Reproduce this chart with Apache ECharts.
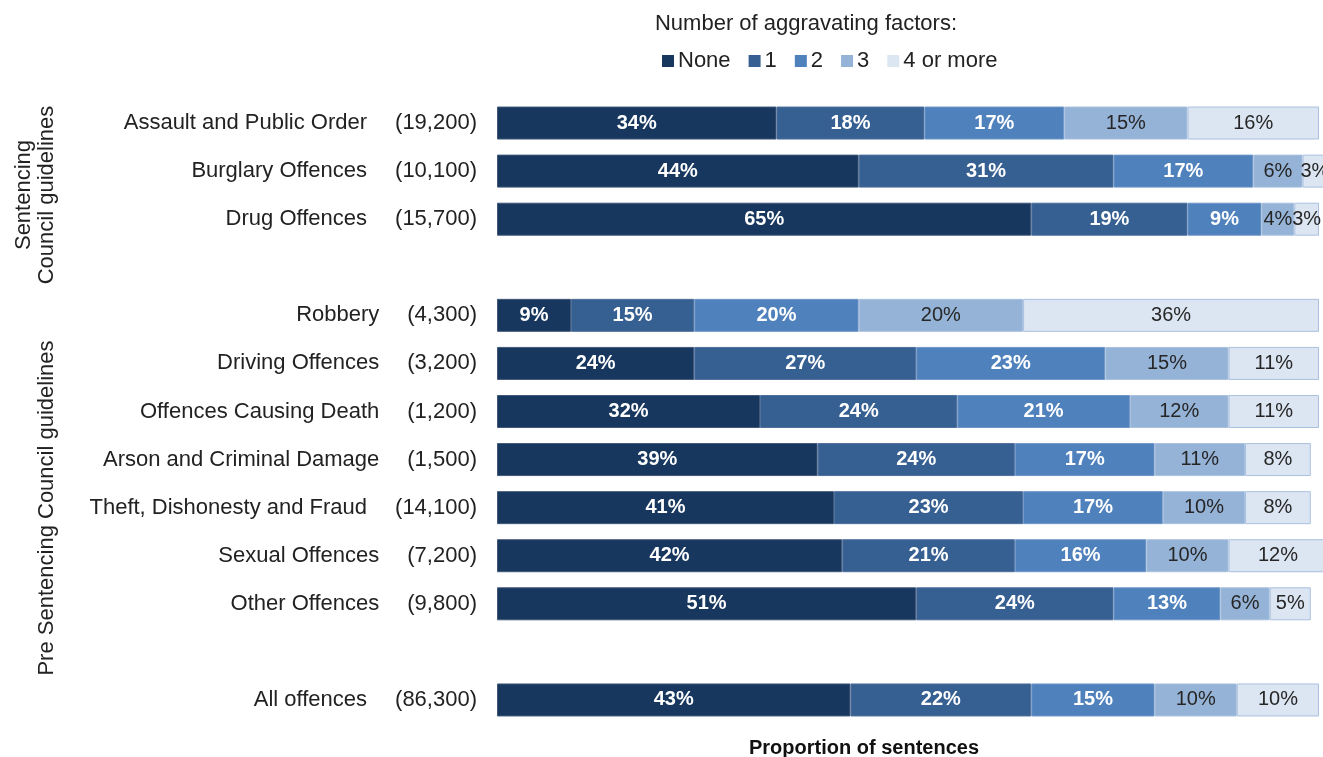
<!DOCTYPE html>
<html>
<head>
<meta charset="utf-8">
<title>Aggravating factors by offence group</title>
<script src="https://cdn.jsdelivr.net/npm/echarts@6/dist/echarts.min.js"></script>
<style>
  html, body { margin: 0; padding: 0; background: #fff; }
  #chart { width: 1323px; height: 757px; }
</style>
</head>
<body>
<div id="chart"></div>
<script>
// Offence groups (empty strings are spacer rows between the groups)
const offences = [
  'Assault and Public Order', 'Burglary Offences', 'Drug Offences', '',
  'Robbery', 'Driving Offences', 'Offences Causing Death', 'Arson and Criminal Damage',
  'Theft, Dishonesty and Fraud', 'Sexual Offences', 'Other Offences', '',
  'All offences'
];
const sentenceCounts = [
  '19,200', '10,100', '15,700', '',
  '4,300', '3,200', '1,200', '1,500',
  '14,100', '7,200', '9,800', '',
  '86,300'
];

// Share of sentences (%) by number of aggravating factors
const factorNames = ['None', '1', '2', '3', '4 or more'];
const noneShare  = [34, 44, 65, null,  9, 24, 32, 39, 41, 42, 51, null, 43];
const oneShare   = [18, 31, 19, null, 15, 27, 24, 24, 23, 21, 24, null, 22];
const twoShare   = [17, 17,  9, null, 20, 23, 21, 17, 17, 16, 13, null, 15];
const threeShare = [15,  6,  4, null, 20, 15, 12, 11, 10, 10,  6, null, 10];
const fourShare  = [16,  3,  3, null, 36, 11, 11,  8,  8, 12,  5, null, 10];

const shares = [noneShare, oneShare, twoShare, threeShare, fourShare];
const fills   = ['#17375E', '#376092', '#4F81BD', '#95B3D7', '#DCE6F2'];
const borders = ['#41587a', '#4d6f9c', '#6f96c8', '#a9c0df', '#a9c0df'];
const FONT = '"Liberation Sans", Arial, sans-serif';
const TEXT = '#222222';

const chart = echarts.init(document.getElementById('chart'), null, { renderer: 'canvas' });

const series = factorNames.map((name, k) => ({
  name,
  type: 'bar',
  stack: 'share',
  barWidth: 33,
  clip: false,
  data: shares[k],
  itemStyle: { color: fills[k], borderColor: borders[k], borderWidth: 1 },
  label: {
    show: true,
    position: 'inside',
    formatter: p => (p.value == null ? '' : p.value + '%'),
    fontFamily: FONT,
    fontSize: 20,
    fontWeight: k < 3 ? 'bold' : 'normal',
    color: k < 3 ? '#ffffff' : '#262626'
  },
  emphasis: { disabled: true }
}));

chart.setOption({
  animation: false,
  backgroundColor: '#ffffff',
  textStyle: { fontFamily: FONT },
  grid: { left: 497, right: 4, top: 99, bottom: 33, containLabel: false },
  legend: {
    data: factorNames,
    left: 657,
    top: 45,
    icon: 'rect',
    itemWidth: 12,
    itemHeight: 12,
    itemGap: 18,
    itemStyle: { borderWidth: 0 },
    textStyle: { fontFamily: FONT, fontSize: 22, color: TEXT, padding: [0, 0, 0, -1] }
  },
  xAxis: {
    type: 'value',
    min: 0,
    max: 100,
    show: false,
    splitLine: { show: false }
  },
  yAxis: {
    type: 'category',
    inverse: true,
    data: offences,
    axisLine: { show: false },
    axisTick: { show: false },
    splitLine: { show: false },
    axisLabel: {
      margin: 20,
      formatter: (v, i) => (v ? '{n|' + v + '}{c|(' + sentenceCounts[i] + ')}' : ''),
      rich: {
        n: { fontFamily: FONT, fontSize: 22, color: TEXT },
        c: { fontFamily: FONT, fontSize: 22, color: TEXT, padding: [0, 0, 0, 28] }
      }
    }
  },
  graphic: [
    {
      type: 'text',
      x: 806, y: 24,
      style: {
        text: 'Number of aggravating factors:',
        font: '22px ' + FONT,
        fill: TEXT,
        align: 'center',
        verticalAlign: 'middle'
      }
    },
    {
      type: 'text',
      x: 35, y: 195,
      rotation: Math.PI / 2,
      style: {
        text: 'Sentencing\nCouncil guidelines',
        font: '22px ' + FONT,
        lineHeight: 23,
        fill: TEXT,
        align: 'center',
        verticalAlign: 'middle'
      }
    },
    {
      type: 'text',
      x: 47, y: 508,
      rotation: Math.PI / 2,
      style: {
        text: 'Pre Sentencing Council guidelines',
        font: '22px ' + FONT,
        fill: TEXT,
        align: 'center',
        verticalAlign: 'middle'
      }
    },
    {
      type: 'text',
      x: 864, y: 748,
      style: {
        text: 'Proportion of sentences',
        font: 'bold 20px ' + FONT,
        fill: '#111111',
        align: 'center',
        verticalAlign: 'middle'
      }
    }
  ],
  series
});
</script>
</body>
</html>
